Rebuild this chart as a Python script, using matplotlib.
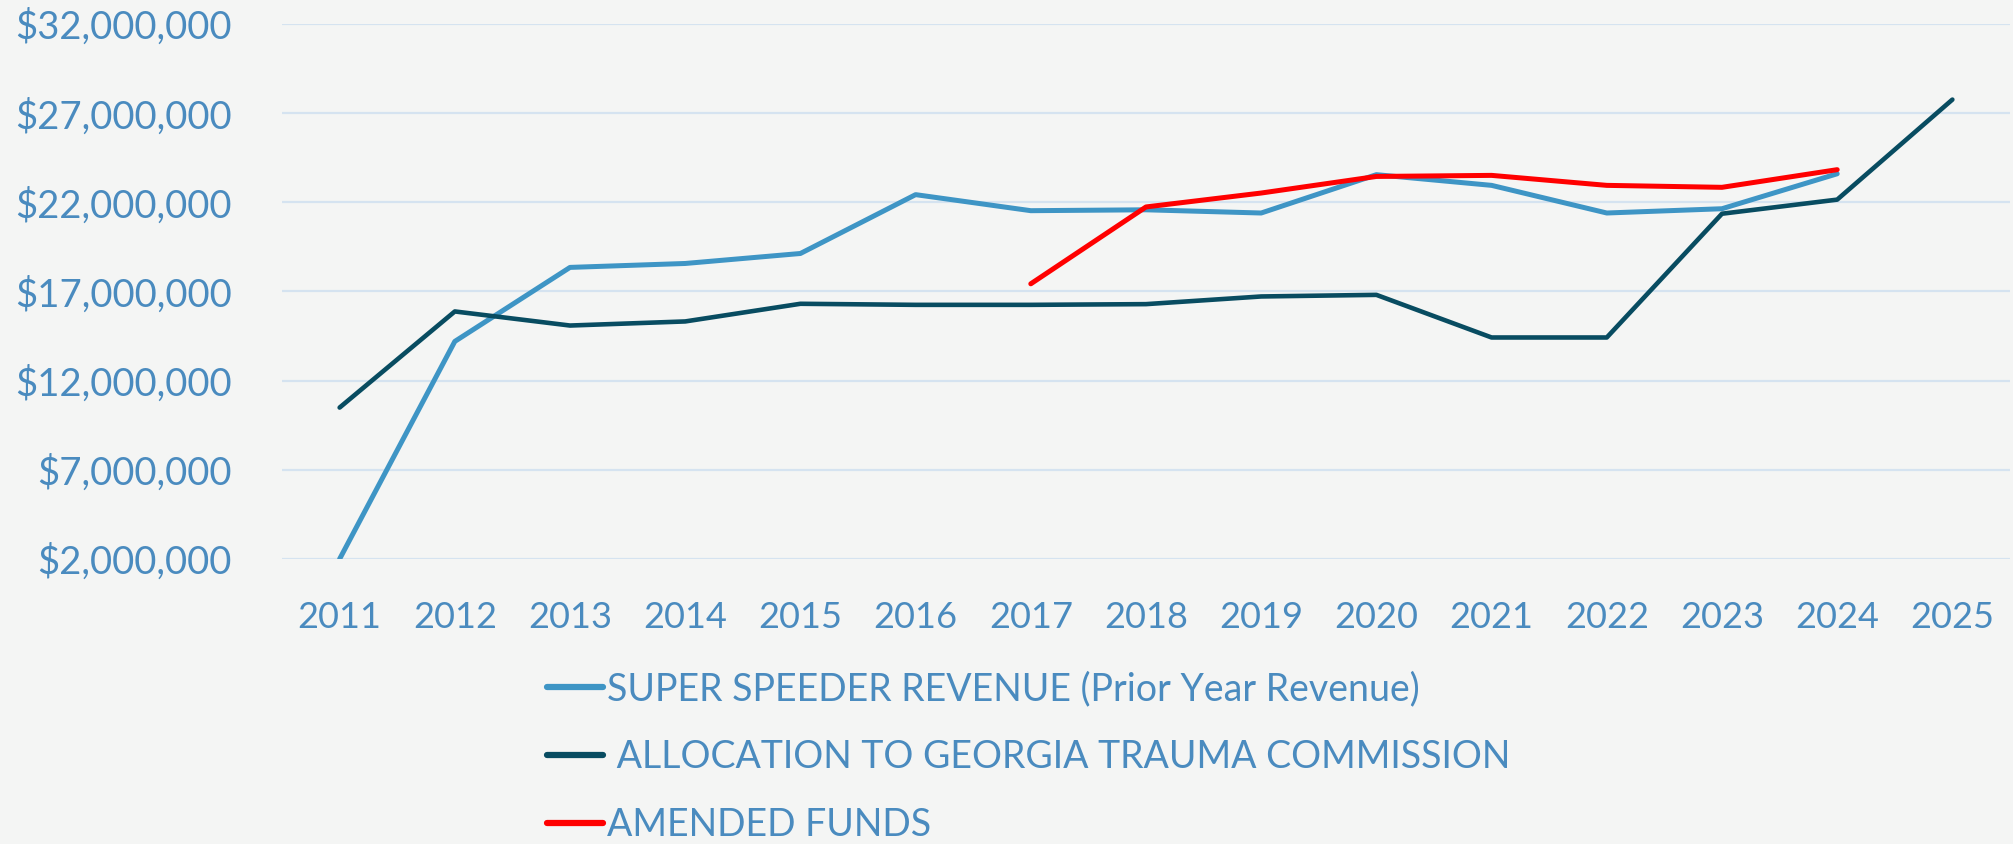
import numpy as np
import matplotlib.pyplot as plt
from matplotlib.ticker import FuncFormatter

years = ['2011', '2012', '2013', '2014', '2015', '2016', '2017', '2018',
         '2019', '2020', '2021', '2022', '2023', '2024', '2025']

# values in dollars
super_speeder = [2.0e6, 14.2e6, 18.35e6, 18.57e6, 19.13e6, 22.43e6, 21.53e6, 21.58e6,
                 21.40e6, 23.55e6, 22.95e6, 21.40e6, 21.64e6, 23.60e6, np.nan]
allocation = [10.49e6, 15.88e6, 15.09e6, 15.32e6, 16.31e6, 16.25e6, 16.25e6, 16.29e6,
              16.72e6, 16.81e6, 14.42e6, 14.42e6, 21.36e6, 22.15e6, 27.76e6]
amended = [np.nan, np.nan, np.nan, np.nan, np.nan, np.nan, 17.43e6, 21.74e6,
           22.52e6, 23.45e6, 23.51e6, 22.95e6, 22.84e6, 23.83e6, np.nan]

labels = ['SUPER SPEEDER REVENUE (Prior Year Revenue)',
          ' ALLOCATION TO GEORGIA TRAUMA COMMISSION',
          'AMENDED FUNDS']

bg = '#f4f5f4'
txt = '#4a8bbf'

plt.rcParams['font.family'] = ['Lato', 'DejaVu Sans']

fig = plt.figure(figsize=(20.13, 8.44), dpi=100, facecolor=bg)
ax = fig.add_axes([0.1401, 0.3377, 0.8584, 0.6339])
ax.set_facecolor(bg)

x = np.arange(len(years))
l1, = ax.plot(x, super_speeder, color='#3e95c5', lw=3.6, solid_capstyle='round')
l2, = ax.plot(x, allocation, color='#084c61', lw=3.3, solid_capstyle='round')
l3, = ax.plot(x, amended, color='#ff0000', lw=3.6, solid_capstyle='round')

ax.set_xlim(-0.5, len(years) - 0.5)
ax.set_ylim(2e6, 32e6)
ax.set_yticks(np.arange(2e6, 32.1e6, 5e6))
ax.yaxis.set_major_formatter(FuncFormatter(lambda v, p: '${:,.0f}'.format(v)))
ax.set_xticks(x)
ax.set_xticklabels(years)
ax.grid(axis='y', color='#d5e3f0', lw=1.6)
ax.set_axisbelow(True)
for s in ax.spines.values():
    s.set_visible(False)
ax.tick_params(axis='both', length=0, colors=txt)
ax.tick_params(axis='y', pad=36, labelsize=27.5)
ax.tick_params(axis='x', pad=30, labelsize=26)

leg = fig.legend([l1, l2, l3], labels, loc='upper left', bbox_to_anchor=(0.2715, 0.205),
                 frameon=False, fontsize=27, labelcolor=txt, handlelength=1.5,
                 handletextpad=0.1, labelspacing=0.85, borderpad=0, borderaxespad=0)
for h in leg.get_lines():
    h.set_linewidth(4.5)

fig.savefig('out.png', dpi=100, facecolor=bg)
